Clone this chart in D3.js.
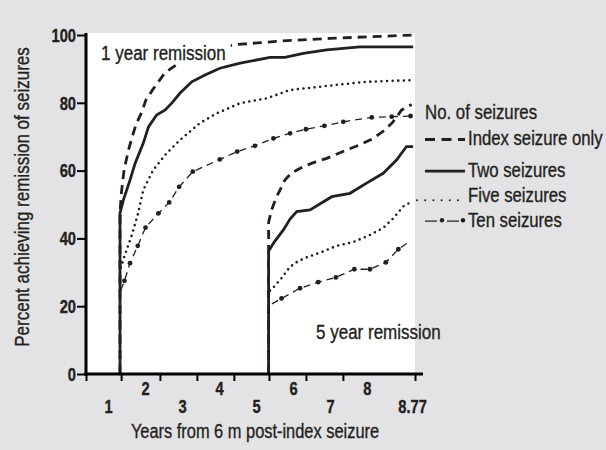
<html>
<head>
<script src="https://cdn.jsdelivr.net/npm/d3@7"></script>
<style>
  body { margin: 0; background: #e3e3e5; }
  text { font-family: "Liberation Sans Narrow", "Arial Narrow", "Liberation Sans", sans-serif; fill: #231f20; stroke: #231f20; stroke-width: 0.35px; }
</style>
</head>
<body>
<svg width="606" height="450"></svg>
<script>
// curves: [years, percent]
var index1 = [[1.32,0],[1.32,47.8],[1.36,53.7],[1.43,60.2],[1.55,66.1],[1.64,69.6],[1.75,73.5],[1.91,77.3],[2.02,80.8],[2.20,83.8],[2.54,88.9],[2.87,91.4],[3.21,93.2],[4.38,97.1],[5.65,98.2],[7.00,99.0],[8.35,99.6],[9.25,100]]
var two1 = [[1.32,0],[1.32,47.5],[1.41,51.3],[1.59,57.2],[1.73,62.2],[1.95,68.1],[2.09,72.9],[2.31,76.4],[2.54,77.9],[2.72,79.9],[2.94,82.8],[3.26,86.2],[3.62,88.2],[4.02,90.2],[4.57,91.7],[5.38,93.4],[5.78,93.4],[6.28,94.6],[6.91,95.6],[7.81,96.5],[9.25,96.5]]
var five1 = [[1.32,0],[1.32,30.7],[1.45,35.1],[1.64,41.0],[1.81,47.4],[1.95,54.3],[2.22,60.2],[2.58,65.1],[2.94,69.0],[3.48,74.0],[3.94,76.9],[4.57,79.9],[5.29,81.3],[5.92,83.8],[6.37,84.3],[7.18,85.3],[7.99,86.2],[9.25,86.7]]
var ten1 = [[1.32,0],[1.32,24.2],[1.44,27.5],[1.59,32.7],[1.80,37.8],[2.01,43.2],[2.36,47.4],[2.65,50.6],[2.92,55.2],[3.29,59.7],[4.02,63.3],[4.49,65.6],[4.97,67.3],[5.47,69.5],[5.92,71.0],[6.35,72.2],[6.85,73.2],[7.36,74.4],[8.13,75.7],[8.67,75.9],[9.18,76.1]]

var index5 = [[5.34,0],[5.34,44.8],[5.42,48.4],[5.54,51.9],[5.65,54.3],[5.78,57.2],[5.96,59.3],[6.28,61.2],[6.59,62.5],[6.91,63.6],[7.45,66.1],[7.81,67.6],[8.17,69.5],[8.49,72.0],[8.70,74.3],[8.94,77.9],[9.21,79.5]]
var two5 = [[5.34,0],[5.34,36.3],[5.51,39.2],[5.74,42.5],[5.92,45.7],[6.10,47.9],[6.46,48.4],[7.05,52.3],[7.54,53.3],[7.99,56.3],[8.44,59.2],[8.80,63.1],[9.07,67.1],[9.25,67.1]]
var five5 = [[5.34,0],[5.34,24.2],[5.51,26.0],[5.69,28.3],[5.92,31.6],[6.10,33.0],[6.32,34.2],[6.78,36.0],[7.18,37.8],[7.63,38.9],[8.08,41.0],[8.44,43.1],[8.71,45.9],[8.98,49.4],[9.25,51.1]]
var ten5 = [[5.34,0],[5.34,20.1],[5.69,22.3],[6.19,25.3],[6.68,27.1],[7.16,28.5],[7.66,30.9],[8.08,30.9],[8.51,32.9],[8.85,36.8],[9.11,38.8]]

var yTicks = [0, 20, 40, 60, 80, 100]
var xTickMarks = [0.4, 1.35, 2.4, 3.4, 4.4, 5.35, 6.35, 7.35, 9.3]
var xLabelsTop = [2, 4, 6, 8]
var xLabelsBottom = [1, 3, 5, 7, 9.22]   // last one is printed as 8.77 at the axis end
var legendNames = ['Index seizure only', 'Two seizures', 'Five seizures', 'Ten seizures']

var svg = d3.select('svg')
var x = d3.scaleLinear().domain([0.4, 9.3]).range([86, 415])
var y = d3.scaleLinear().domain([0, 100]).range([374, 35])

// no narrow font installed, so squeeze the regular one
function condense(sel, k){
    sel.each(function(){
        var L = this.getComputedTextLength()
        d3.select(this).attr('textLength', L * k).attr('lengthAdjust', 'spacingAndGlyphs')
    })
}

svg.append('rect').attr('width', 606).attr('height', 450).attr('fill', '#e3e3e5')
svg.append('rect')
    .attr('x', x(0.4)).attr('y', 33)
    .attr('width', x(9.3) - x(0.4)).attr('height', y(0) - 33)
    .attr('fill', '#fff')

var styles = {
    index: { w: 2.8, dash: '9,6', cap: 'butt' },
    two:   { w: 2.8, dash: null, cap: 'butt' },
    five:  { w: 2.6, dash: '0,5.6', cap: 'round' },
    ten:   { w: 1.3, dash: '7,5', cap: 'butt' }
}

var curves = [
    { s: 'five', d: five1 }, { s: 'ten', d: ten1 }, { s: 'index', d: index1 }, { s: 'two', d: two1 },
    { s: 'five', d: five5 }, { s: 'ten', d: ten5 }, { s: 'index', d: index5 }, { s: 'two', d: two5 }
]

var line = d3.line().x(function(d){ return x(d[0]) }).y(function(d){ return y(d[1]) })

svg.selectAll('path.curve')
    .data(curves)
    .enter()
    .append('path')
    .attr('class', 'curve')
    .attr('d', function(c){ return line(c.d) })
    .attr('fill', 'none')
    .attr('stroke', '#231f20')
    .attr('stroke-width', function(c){ return styles[c.s].w })
    .attr('stroke-dasharray', function(c){ return styles[c.s].dash })
    .attr('stroke-linecap', function(c){ return styles[c.s].cap })

// dots on the ten seizure curves
var tenDots = ten1.slice(2).concat(ten5.slice(2, -1))
svg.selectAll('circle.dot')
    .data(tenDots)
    .enter()
    .append('circle')
    .attr('class', 'dot')
    .attr('cx', function(d){ return x(d[0]) })
    .attr('cy', function(d){ return y(d[1]) })
    .attr('r', 2.4)
    .attr('fill', '#231f20')

// annotations
var t1 = svg.append('text').attr('x', 101).attr('y', 60).attr('font-size', 20).text('1 year remission')
condense(t1, 0.85)
var bb = t1.node().getBBox()
svg.insert('rect', function(){ return t1.node() })
    .attr('x', bb.x - 2).attr('y', bb.y).attr('width', bb.width + 7).attr('height', bb.height)
    .attr('fill', '#fff')
condense(svg.append('text').attr('x', 316).attr('y', 339).attr('font-size', 20).text('5 year remission'), 0.85)

// axes
var yAxis = svg.append('g')
    .attr('transform', 'translate(' + x(0.4) + ',0)')
    .call(d3.axisLeft(y).tickValues(yTicks).tickSize(9).tickSizeOuter(0).tickPadding(1))
yAxis.select('.domain').attr('stroke-width', 3).attr('d', 'M0,' + (y(0) + 1.5) + 'V33')
yAxis.selectAll('.tick line').attr('stroke-width', 2)
yAxis.selectAll('text').attr('font-size', 17.5).attr('font-weight', 'bold').attr('dy', '0.36em')
condense(yAxis.selectAll('text'), 0.84)

var xAxis = svg.append('g')
    .attr('transform', 'translate(0,' + y(0) + ')')
    .call(d3.axisBottom(x).tickValues(xTickMarks).tickSize(7).tickSizeOuter(0).tickFormat(''))
xAxis.select('.domain').attr('stroke-width', 3).attr('d', 'M' + (x(0.4) - 1.5) + ',0H423')
xAxis.selectAll('.tick line').attr('stroke-width', 2)

var topRow = svg.append('g')
    .attr('transform', 'translate(0,' + y(0) + ')')
    .call(d3.axisBottom(x).tickValues(xLabelsTop).tickSize(0).tickPadding(9))
topRow.select('.domain').remove()
topRow.selectAll('text').attr('font-size', 17.5).attr('font-weight', 'bold')
condense(topRow.selectAll('text'), 0.84)

var bottomRow = svg.append('g')
    .attr('transform', 'translate(0,' + y(0) + ')')
    .call(d3.axisBottom(x).tickValues(xLabelsBottom).tickSize(0).tickPadding(27)
        .tickFormat(function(d){ return d > 9 ? '8.77' : d }))
bottomRow.select('.domain').remove()
bottomRow.selectAll('text').attr('font-size', 17.5).attr('font-weight', 'bold')
condense(bottomRow.selectAll('text'), 0.84)

condense(svg.append('text')
    .attr('x', 255).attr('y', 438)
    .attr('text-anchor', 'middle').attr('font-size', 20)
    .text('Years from 6 m post-index seizure'), 0.82)

condense(svg.append('text')
    .attr('transform', 'translate(29,197) rotate(-90)')
    .attr('text-anchor', 'middle').attr('font-size', 20)
    .text('Percent achieving remission of seizures'), 0.85)

// legend
condense(svg.append('text').attr('x', 425).attr('y', 118.5).attr('font-size', 20).text('No. of seizures'), 0.84)
var legY = [145, 176.7, 201.7, 226.7]
var legKeys = ['index', 'two', 'five', 'ten']
var leg = svg.selectAll('g.leg')
    .data(legendNames)
    .enter()
    .append('g')
    .attr('class', 'leg')
leg.append('text')
    .attr('x', 468)
    .attr('y', function(d, i){ return legY[i] })
    .attr('font-size', 20)
    .text(function(d){ return d })
condense(leg.selectAll('text'), 0.835)
leg.append('line')
    .attr('x1', function(d, i){ return legKeys[i] == 'five' ? 417 : 425 })
    .attr('x2', 465)
    .attr('y1', function(d, i){ return legKeys[i] == 'five' ? legY[i] - 1.5 : legY[i] - 5.5 })
    .attr('y2', function(d, i){ return legKeys[i] == 'five' ? legY[i] - 1.5 : legY[i] - 5.5 })
    .attr('stroke', '#231f20')
    .attr('stroke-width', function(d, i){ return legKeys[i] == 'five' ? 2 : styles[legKeys[i]].w })
    .attr('stroke-dasharray', function(d, i){ return legKeys[i] == 'index' ? '10,6.5' : (legKeys[i] == 'five' ? '0,8.2' : (legKeys[i] == 'ten' ? '12,10' : null)) })
    .attr('stroke-linecap', function(d, i){ return styles[legKeys[i]].cap })
svg.selectAll('circle.legdot')
    .data([442, 463])
    .enter()
    .append('circle')
    .attr('class', 'legdot')
    .attr('cx', function(d){ return d })
    .attr('cy', legY[3] - 6.5)
    .attr('r', 2.2)
    .attr('fill', '#231f20')
</script>
</body>
</html>
